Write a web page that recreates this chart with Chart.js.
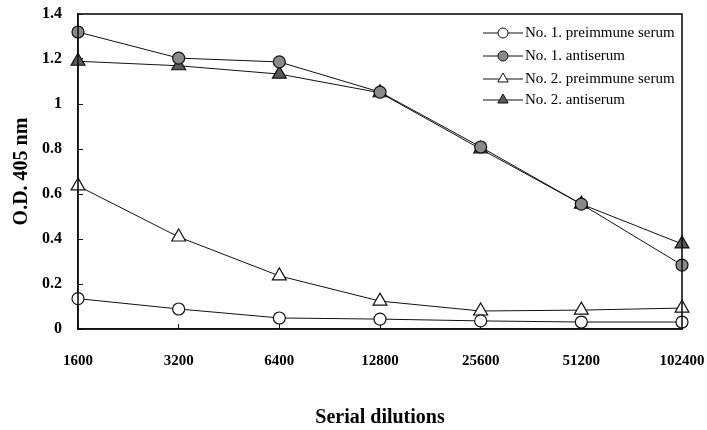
<!DOCTYPE html>
<html>
<head>
<meta charset="utf-8">
<script src="https://cdn.jsdelivr.net/npm/chart.js@4/dist/chart.umd.min.js"></script>
<style>
  html, body { margin: 0; padding: 0; background: #fff; }
  #wrap { width: 707px; height: 430px; }
</style>
</head>
<body>
<div id="wrap"><canvas id="chartCanvas" width="707" height="430"></canvas></div>
<script>
// serial dilutions (x categories)
const dilutions = ['1600', '3200', '6400', '12800', '25600', '51200', '102400'];

// O.D. 405 nm readings
const preimmune1 = [0.135, 0.089, 0.049, 0.044, 0.036, 0.031, 0.031];
const antiserum1 = [1.32, 1.204, 1.187, 1.053, 0.809, 0.555, 0.284];
const preimmune2 = [0.636, 0.409, 0.236, 0.124, 0.08, 0.084, 0.093];
const antiserum2 = [1.19, 1.17, 1.133, 1.05, 0.80, 0.555, 0.378];

const seriesNames = ['No. 1. preimmune serum', 'No. 1. antiserum', 'No. 2. preimmune serum', 'No. 2. antiserum'];

const serif = '"Liberation Serif", "Times New Roman", serif';
Chart.defaults.color = '#000';
Chart.defaults.font.family = serif;

const ctx = document.getElementById('chartCanvas').getContext('2d');

const mk = (label, data, style, fill, radius) => ({
  label,
  data,
  borderColor: '#111',
  borderWidth: 1,
  pointStyle: style,
  pointRadius: radius,
  pointBackgroundColor: fill,
  pointBorderColor: '#111',
  pointBorderWidth: 1.2,
  tension: 0,
  fill: false,
  clip: false
});

// box around plot + line/marker legend inside upper right
const framePlugin = {
  id: 'frame',
  afterDraw(chart) {
    const { ctx, chartArea } = chart;
    ctx.save();
    ctx.strokeStyle = '#111';
    ctx.lineWidth = 1.6;
    ctx.strokeRect(chartArea.left, chartArea.top, chartArea.right - chartArea.left, chartArea.bottom - chartArea.top);

    const x0 = chartArea.right - 199;
    const rows = [19, 42, 65, 86];
    chart.data.datasets.forEach((ds, i) => {
      const y = chartArea.top + rows[i];
      ctx.strokeStyle = '#111';
      ctx.lineWidth = 1;
      ctx.beginPath();
      ctx.moveTo(x0, y);
      ctx.lineTo(x0 + 40, y);
      ctx.stroke();
      ctx.fillStyle = ds.pointBackgroundColor;
      ctx.strokeStyle = '#111';
      ctx.lineWidth = 1;
      const r = ds.pointStyle === 'triangle' ? 6 : 5;
      Chart.helpers.drawPoint(ctx, { pointStyle: ds.pointStyle, radius: r, rotation: 0, borderWidth: 1 }, x0 + 20, y);
      ctx.fillStyle = '#000';
      ctx.font = '15px ' + serif;
      ctx.textBaseline = 'middle';
      ctx.textAlign = 'left';
      ctx.fillText(ds.label, x0 + 42, y);
    });
    ctx.restore();
  }
};

new Chart(ctx, {
  type: 'line',
  data: {
    labels: dilutions,
    datasets: [
      mk(seriesNames[0], preimmune1, 'circle', '#fff', 6),
      mk(seriesNames[1], antiserum1, 'circle', '#8a8a8a', 6),
      mk(seriesNames[2], preimmune2, 'triangle', '#fff', 8),
      mk(seriesNames[3], antiserum2, 'triangle', '#5a5a5a', 8)
    ]
  },
  options: {
    responsive: false,
    animation: false,
    layout: { autoPadding: false, padding: { top: 14, right: 25, left: 0, bottom: 0 } },
    plugins: {
      legend: { display: false },
      tooltip: { enabled: false }
    },
    scales: {
      x: {
        type: 'category',
        offset: false,
        afterFit: s => { s.height = 101; s.paddingLeft = 0; s.paddingRight = 0; },
        border: { display: true, color: '#111', width: 1.6 },
        grid: { display: true, drawOnChartArea: false, drawTicks: true, tickLength: -5, color: '#111' },
        ticks: { padding: 28, maxRotation: 0, font: { size: 15, weight: 'bold' } },
        title: { display: true, text: 'Serial dilutions', padding: { top: 0, bottom: 0 }, font: { size: 20, weight: 'bold' } }
      },
      y: {
        min: 0,
        max: 1.4,
        afterFit: s => { s.width = 78; s.paddingTop = 0; s.paddingBottom = 0; },
        border: { display: true, color: '#111', width: 1.6 },
        grid: { display: true, drawOnChartArea: false, drawTicks: true, tickLength: -5, color: '#111' },
        ticks: {
          stepSize: 0.2,
          padding: 21,
          font: { size: 16, weight: 'bold' },
          callback: v => String(+v.toFixed(1))
        },
        title: { display: true, text: 'O.D. 405 nm', padding: { top: 10, bottom: 0 }, font: { size: 20, weight: 'bold' } }
      }
    }
  },
  plugins: [framePlugin]
});
</script>
</body>
</html>
